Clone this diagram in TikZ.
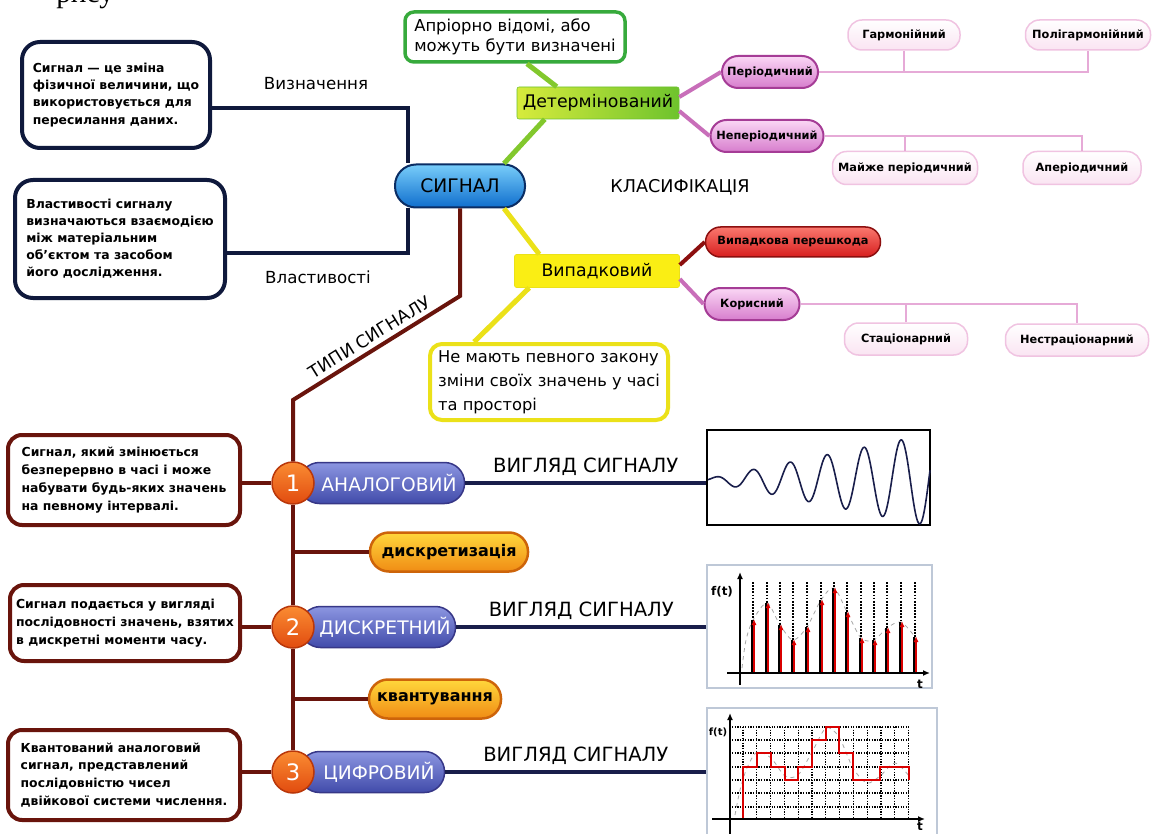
\documentclass[tikz,border=0pt]{standalone}
\usepackage{fontspec}
\setmainfont{DejaVu Sans}
\newfontfamily\serifcyr{Liberation Serif}
\usetikzlibrary{arrows.meta, positioning}

\newlength\pxu
\setlength\pxu{0.75pt}

\definecolor{navyline}{RGB}{15,25,60}
\definecolor{trunkred}{RGB}{105,20,12}
\definecolor{sigdraw}{RGB}{10,45,100}
\definecolor{sigtop}{RGB}{120,205,250}
\definecolor{sigbot}{RGB}{15,110,205}
\definecolor{greenline}{RGB}{130,200,45}
\definecolor{greendraw}{RGB}{55,170,60}
\definecolor{determleft}{RGB}{215,235,60}
\definecolor{determright}{RGB}{110,195,45}
\definecolor{yellowline}{RGB}{235,225,25}
\definecolor{yellowfill}{RGB}{250,238,20}
\definecolor{pinkline}{RGB}{200,110,185}
\definecolor{midpinkdraw}{RGB}{165,60,150}
\definecolor{midpinktop}{RGB}{250,215,245}
\definecolor{midpinkbot}{RGB}{215,125,205}
\definecolor{leafpink}{RGB}{240,195,225}
\definecolor{leafpinkfill}{RGB}{250,228,242}
\definecolor{leafline}{RGB}{230,170,215}
\definecolor{noisetop}{RGB}{250,120,110}
\definecolor{noisebot}{RGB}{215,30,30}
\definecolor{noisedraw}{RGB}{140,15,15}
\definecolor{typedraw}{RGB}{55,55,135}
\definecolor{typetop}{RGB}{140,150,225}
\definecolor{typebot}{RGB}{65,75,170}
\definecolor{numdraw}{RGB}{185,55,10}
\definecolor{numtop}{RGB}{250,140,50}
\definecolor{numbot}{RGB}{225,75,15}
\definecolor{stepdraw}{RGB}{205,100,10}
\definecolor{steptop}{RGB}{255,215,60}
\definecolor{stepbot}{RGB}{240,140,20}
\definecolor{sigline}{RGB}{25,30,75}
\definecolor{framegray}{RGB}{190,200,215}

\begin{document}
\begin{tikzpicture}[x=0.75pt, y=-0.75pt,
    txt/.style={inner sep=1pt, font=\fontsize{12.5}{15}\selectfont},
    infobox/.style={draw=navyline, fill=white, line width=4\pxu, rounded corners=18\pxu,
        align=left, inner sep=0pt, font=\fontsize{9.3}{12.8}\selectfont\bfseries},
    typebox/.style={infobox, draw=trunkred, rounded corners=14\pxu, font=\fontsize{9.3}{13.4}\selectfont\bfseries},
    pill/.style={draw, rounded corners=#1\pxu, inner sep=0pt, align=center},
    leafpill/.style={pill=14, draw=leafpink, line width=1.5\pxu, top color=white, bottom color=leafpinkfill,
        minimum height=30\pxu, font=\fontsize{8.5}{10}\selectfont\bfseries},
    midpill/.style={pill=16, draw=midpinkdraw, line width=2\pxu, top color=midpinktop, bottom color=midpinkbot,
        minimum height=32\pxu, font=\fontsize{8.5}{10}\selectfont\bfseries},
    typepill/.style={pill=20, draw=typedraw, line width=1.5\pxu, top color=typetop, bottom color=typebot,
        text=white, minimum height=41\pxu, font=\fontsize{14}{16}\selectfont},
    numcirc/.style={circle, draw=numdraw, line width=1.5\pxu, top color=numtop, bottom color=numbot,
        text=white, minimum size=42\pxu, inner sep=0pt, font=\fontsize{17}{18}\selectfont},
    steppill/.style={pill=19, draw=stepdraw, line width=2.5\pxu, top color=steptop, bottom color=stepbot,
        minimum height=39\pxu, font=\fontsize{12}{14}\selectfont\bfseries},
    graphbox/.style={draw, inner sep=0pt},
    navy/.style={draw=navyline, line width=3.5\pxu},
    trunk/.style={draw=trunkred, line width=4\pxu},
    greenl/.style={draw=greenline, line width=5\pxu},
    yellowl/.style={draw=yellowline, line width=5\pxu},
    pinkl/.style={draw=pinkline, line width=4\pxu},
    leafl/.style={draw=leafline, line width=2.5\pxu},
    sigl/.style={draw=sigline, line width=3.5\pxu},
    axis/.style={line width=1.8\pxu, -{Latex[length=5.25pt, width=4.5pt]}},
    griddot/.style={densely dotted, line width=1.3\pxu},
  ]
  \useasboundingbox[fill=white] (0,0) rectangle (1152,834);

  % page text cut at the top
  \node[anchor=base west, inner sep=0pt, font=\serifcyr\fontsize{22}{24}\selectfont] (pagetxt) at (56,2.5) {рису};

  % definition and properties
  \node[infobox, minimum width=188\pxu, minimum height=106\pxu] (def) at (116,95)
    {Сигнал — це зміна\\фізичної величини, що\\використовується для\\пересилання даних.};
  \node[infobox, minimum width=210\pxu, minimum height=118\pxu] (props) at (120,239)
    {Властивості сигналу\\визначаються взаємодією\\між матеріальним\\об'єктом та засобом\\його дослідження.};
  \node[txt] (lbldef) at (316,84) {Визначення};
  \node[txt] (lblprops) at (318,277) {Властивості};

  \node[pill=21, minimum width=130\pxu, minimum height=43\pxu, draw=sigdraw, line width=2\pxu,
    top color=sigtop, bottom color=sigbot, font=\fontsize{14}{16}\selectfont] (sig) at (460,186) {СИГНАЛ};

  % classification
  \node[txt, font=\fontsize{13.2}{15}\selectfont] (lblclass) at (680,187) {КЛАСИФІКАЦІЯ};
  \node[pill=9, fill=white, draw=greendraw, line width=3.5\pxu, minimum width=220\pxu, minimum height=50\pxu,
    font=\fontsize{12.3}{15}\selectfont, align=left] (apriori) at (515,37) {Апріорно відомі, або\\можуть бути визначені};
  \node[pill=2, draw=determright, left color=determleft, right color=determright, minimum width=162\pxu,
    minimum height=32\pxu, font=\fontsize{13}{15}\selectfont] (determ) at (598,103) {Детермінований};
  \node[midpill, minimum width=96\pxu] (period) at (770,72) {Періодичний};
  \node[midpill, minimum width=113\pxu] (nonper) at (767,136) {Неперіодичний};
  \node[leafpill, minimum width=112\pxu] (harm) at (904,35) {Гармонійний};
  \node[leafpill, minimum width=125\pxu] (polyharm) at (1088,35) {Полігармонійний};
  \node[leafpill, minimum width=145\pxu, minimum height=33\pxu] (almost) at (905,168) {Майже періодичний};
  \node[leafpill, minimum width=118\pxu, minimum height=33\pxu] (aper) at (1082,168) {Аперіодичний};

  \node[pill=2, draw=yellowline, fill=yellowfill, minimum width=165\pxu, minimum height=33\pxu,
    font=\fontsize{13}{15}\selectfont] (random) at (597,271) {Випадковий};
  \node[pill=12, fill=white, draw=yellowline, line width=4\pxu, minimum width=238\pxu, minimum height=76\pxu,
    font=\fontsize{12.2}{18}\selectfont, align=left] (noinfo) at (549,382)
    {Не мають певного закону\\зміни своїх значень у часі\\та просторі};
  \node[pill=15, draw=noisedraw, line width=1.5\pxu, top color=noisetop, bottom color=noisebot,
    minimum width=175\pxu, minimum height=30\pxu, font=\fontsize{8.5}{10}\selectfont\bfseries] (noise) at (793,242) {Випадкова перешкода};
  \node[midpill, minimum width=95\pxu] (useful) at (752,304) {Корисний};
  \node[leafpill, minimum width=123\pxu, minimum height=32\pxu] (stat) at (906,339) {Стаціонарний};
  \node[leafpill, minimum width=143\pxu, minimum height=32\pxu] (nonstat) at (1077,340) {Нестраціонарний};

  % signal types
  \node[typebox, minimum width=232\pxu, minimum height=90\pxu] (d1) at (124,480)
    {Сигнал, який змінюється\\безперервно в часі і може\\набувати будь-яких значень\\на певному інтервалі.};
  \node[typebox, minimum width=230\pxu, minimum height=76\pxu] (d2) at (125,623)
    {Сигнал подається у вигляді\\послідовності значень, взятих\\в дискретні моменти часу.};
  \node[typebox, minimum width=232\pxu, minimum height=90\pxu] (d3) at (124,775)
    {Квантований аналоговий\\сигнал, представлений\\послідовністю чисел\\двійкової системи числення.};

  \node[typepill, minimum width=165\pxu] (t1) at (382,483) {\hspace*{14\pxu}АНАЛОГОВИЙ};
  \node[typepill, minimum width=155\pxu] (t2) at (378,627) {\hspace*{14\pxu}ДИСКРЕТНИЙ};
  \node[typepill, minimum width=145\pxu] (t3) at (372,772) {\hspace*{14\pxu}ЦИФРОВИЙ};
  \node[numcirc] (c1) at (293,483) {1};
  \node[numcirc] (c2) at (293,627) {2};
  \node[numcirc] (c3) at (293,772) {3};
  \node[steppill, minimum width=158\pxu] (sampl) at (449,552) {дискретизація};
  \node[steppill, minimum width=132\pxu] (quant) at (435,699) {квантування};

  \node[graphbox, line width=1.8\pxu, minimum width=223\pxu, minimum height=95\pxu] (g1) at (818.5,477.5) {};
  \node[graphbox, draw=framegray, line width=1.2\pxu, minimum width=225\pxu, minimum height=123\pxu] (g2) at (819.5,626.5) {};
  \node[graphbox, draw=framegray, line width=1.2\pxu, minimum width=230\pxu, minimum height=128\pxu] (g3) at (822,772) {};

  % connectors
  \coordinate (jdef) at (408,108);
  \coordinate (jprop) at (408,253);
  \draw[navy] (def.east |- jdef) -- (jdef) -- (jdef |- sig.north);
  \draw[navy] (props.east |- jprop) -- (jprop) -- (jprop |- sig.south);

  \draw[greenl] ([xshift=-22\pxu]sig.north east) -- ([xshift=28\pxu]determ.south west);
  \draw[greenl] ([xshift=40\pxu]determ.north west) -- ([xshift=12\pxu]apriori.south);
  \draw[pinkl] ([yshift=6\pxu]determ.east) -- (period.west);
  \draw[pinkl] ([yshift=-8\pxu]determ.east) -- (nonper.west);
  \draw[leafl] (period.east) -- (period.east -| polyharm.south) -- (polyharm.south);
  \draw[leafl] (harm.south) -- (harm.south |- period.east);
  \draw[leafl] (nonper.east) -- (nonper.east -| aper.north) -- (aper.north);
  \draw[leafl] (almost.north) -- (almost.north |- nonper.east);

  \draw[yellowl] ([xshift=-22\pxu]sig.south east) -- ([xshift=25\pxu]random.north west);
  \draw[yellowl] ([xshift=15\pxu]random.south west) -- ([xshift=-75\pxu]noinfo.north);
  \draw[draw=noisedraw, line width=4\pxu] ([yshift=6\pxu]random.east) -- (noise.west);
  \draw[pinkl] ([yshift=-8\pxu]random.east) -- (useful.west);
  \draw[leafl] (useful.east) -- (useful.east -| nonstat.north) -- (nonstat.north);
  \draw[leafl] (stat.north) -- (stat.north |- useful.east);

  \coordinate (bend1) at (460,296);
  \coordinate (bend2) at (293,400);
  \draw[trunk] (sig.south) -- (bend1) -- node[sloped, above=3\pxu, txt, font=\fontsize{13}{15}\selectfont] {ТИПИ СИГНАЛУ} (bend2) -- (c1.north);
  \draw[trunk] (c1.south) -- (c2.north);
  \draw[trunk] (c2.south) -- (c3.north);
  \draw[trunk] (c1.south |- sampl) -- (sampl.west);
  \draw[trunk] (c2.south |- quant) -- (quant.west);
  \draw[trunk] (d1.east |- c1) -- (c1.west);
  \draw[trunk] (d2.east |- c2) -- (c2.west);
  \draw[trunk] (d3.east |- c3) -- (c3.west);

  \draw[sigl] (t1.east) -- node[above=4\pxu, txt, font=\fontsize{14.7}{16}\selectfont] {ВИГЛЯД СИГНАЛУ} (t1.east -| g1.west);
  \draw[sigl] (t2.east) -- node[above=4\pxu, txt, font=\fontsize{14.7}{16}\selectfont] {ВИГЛЯД СИГНАЛУ} (t2.east -| g2.west);
  \draw[sigl] (t3.east) -- node[above=4\pxu, txt, font=\fontsize{14.7}{16}\selectfont] {ВИГЛЯД СИГНАЛУ} (t3.east -| g3.west);

  % analog signal
  \begin{scope}
    \clip (g1.south west) rectangle (g1.north east);
    \draw[sigline, line width=1.6\pxu] plot[domain=708:930, samples=400, smooth]
      (\x, {480 - (1.5+0.2*(\x-708))*sin((\x-743.75)*9.7297)});
  \end{scope}

  % discrete signal
  \draw[gray!70, dashed, line width=0.8\pxu] plot[smooth] coordinates {(742,668) (746,640) (753,620) (767,603)
    (780,625) (793,640) (807,627) (821,600) (834,588) (847,612) (861,638) (874,640) (887,628) (901,622) (915,637)};
  \foreach \sx/\sy in {753/620, 767/603, 780/625, 793/640, 807/627, 821/600, 834/588,
                       847/612, 861/638, 874/640, 887/628, 901/622, 915/637} {
    \draw[griddot, line width=1.8\pxu] (\sx,582) -- (\sx,\sy);
    \draw[line width=1.2\pxu] (\sx-1,673) -- (\sx-1,\sy);
    \draw[red!85!black, line width=1.4\pxu, -{Latex[length=4.5pt, width=3.75pt]}] (\sx+1,673) -- (\sx+1,\sy-1);
  }
  \draw[axis] (740,685) -- (740,572);
  \draw[axis] (727,673) -- (930,673);
  \node[inner sep=0pt, font=\fontsize{9}{10}\selectfont\bfseries] (ft2) at (722,592) {f(t)};
  \node[inner sep=0pt, font=\fontsize{9}{10}\selectfont\bfseries] (tt2) at (920,684) {t};

  % digital signal
  \foreach \gx in {0,...,12}
    \draw[griddot] ({743+13.8*\gx},727) -- ({743+13.8*\gx},819);
  \foreach \gy in {727,740,753,767,780,793,807}
    \draw[griddot] (732,\gy) -- (909,\gy);
  \draw[gray!70, dashed, line width=0.8\pxu] plot[smooth] coordinates {(735,815) (740,790) (747,768) (757,752)
    (771,758) (785,776) (798,775) (812,752) (826,728) (839,737) (853,768) (867,783) (880,776) (895,763) (909,776)};
  \draw[red!85!black, line width=2\pxu] (743,819) -- (743,767) -- (757,767) -- (757,753) -- (771,753) -- (771,767)
    -- (785,767) -- (785,780) -- (798,780) -- (798,767) -- (812,767) -- (812,740) -- (826,740) -- (826,727)
    -- (839,727) -- (839,753) -- (853,753) -- (853,780) -- (880,780) -- (880,767) -- (909,767) -- (909,780);
  \draw[axis] (730,836) -- (730,713);
  \draw[axis] (712,819) -- (925,819);
  \node[inner sep=0pt, font=\fontsize{7.5}{9}\selectfont\bfseries] (ft3) at (718,732) {f(t)};
  \node[inner sep=0pt, font=\fontsize{9}{10}\selectfont\bfseries] (tt3) at (920,826) {t};
\end{tikzpicture}
\end{document}
